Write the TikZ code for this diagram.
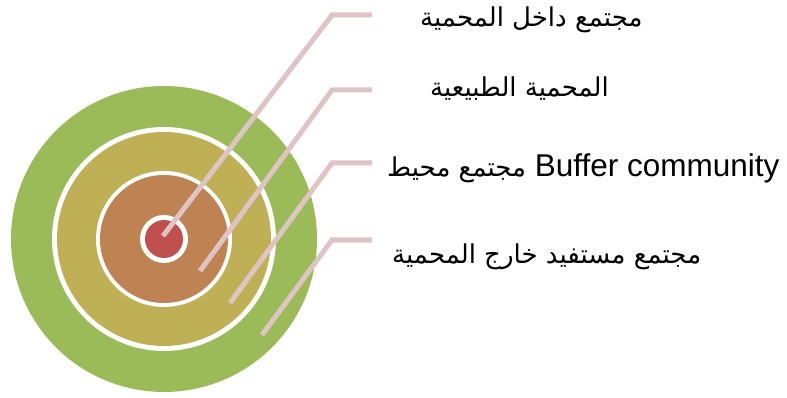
\documentclass[tikz,border=0pt]{standalone}
\usepackage{fontspec}
\setmainfont{Liberation Sans}
\newfontfamily\arabicfont[Script=Arabic]{DejaVu Sans}
\TeXXeTstate=1
\definecolor{ringgreen}{RGB}{155,187,89}
\definecolor{ringyellow}{RGB}{191,176,85}
\definecolor{ringorange}{RGB}{191,130,82}
\definecolor{ringred}{RGB}{192,80,77}
\definecolor{leadpink}{RGB}{222,196,196}
\newcommand{\ar}[1]{{\arabicfont\fontsize{26}{26}\selectfont\beginR #1\endR}}
\begin{document}
\begin{tikzpicture}[x=1pt, y=-1pt,
    lead/.style={line width=5pt, leadpink},
    lbl/.style={anchor=base west, inner sep=0pt, font=\fontsize{31.5}{31.5}\selectfont}]
    \useasboundingbox (0,0) rectangle (787,398);

    % Ringe
    \coordinate (m) at (164,239);
    \fill[ringgreen] (m) circle (153pt);
    \fill[white] (m) circle (112pt);
    \fill[ringyellow] (m) circle (107pt);
    \fill[white] (m) circle (68pt);
    \fill[ringorange] (m) circle (64pt);
    \fill[white] (m) circle (24pt);
    \fill[ringred] (m) circle (19pt);

    % Beschriftungen
    \node[lbl] (inside) at (420,27) {\ar{مجتمع داخل المحمية}};
    \node[lbl] (reserve) at (430,97) {\ar{المحمية الطبيعية}};
    \node[lbl] (buffer) at (387,177) {\ar{مجتمع محيط} Buffer community};
    \node[lbl] (outside) at (392,263) {\ar{مجتمع مستفيد خارج المحمية}};

    % Linien
    \coordinate (p1) at (163,236);
    \coordinate (p2) at (200,271);
    \coordinate (p3) at (230,303);
    \coordinate (p4) at (262,335);
    \foreach \p/\y in {1/15, 2/90, 3/163, 4/240}
        \draw[lead] (p\p) -- (332,\y) coordinate (k\p) -- (372,\y) coordinate (e\p);

\end{tikzpicture}
\end{document}
